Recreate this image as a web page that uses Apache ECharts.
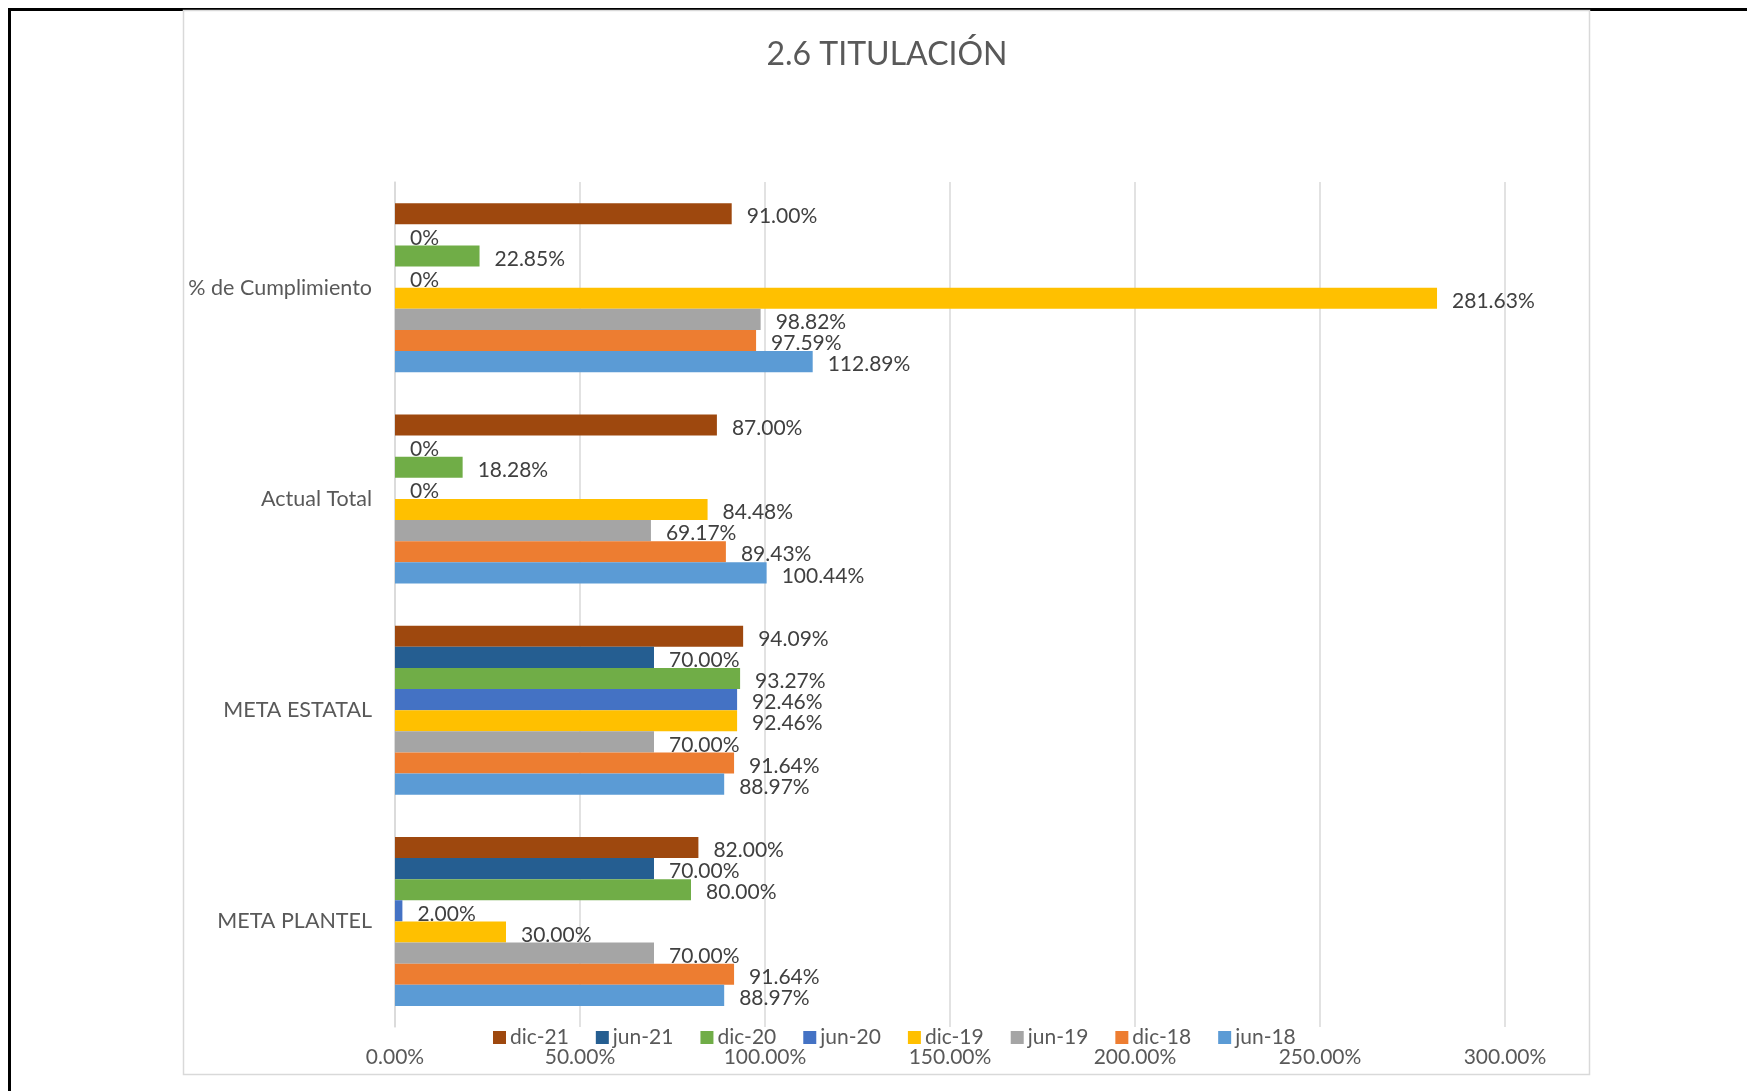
<!DOCTYPE html>
<html>
<head>
<meta charset="utf-8">
<script src="https://cdn.jsdelivr.net/npm/echarts@6/dist/echarts.min.js"></script>
<style>
  html, body { margin: 0; padding: 0; background: #fff; }
  #main { width: 1747px; height: 1091px; }
</style>
</head>
<body>
<div id="main"></div>
<script>
// categorias (de abajo hacia arriba, como en Excel)
const categories = ["META PLANTEL", "META ESTATAL", "Actual Total", "% de Cumplimiento"];
const seriesNames = ["dic-21", "jun-21", "dic-20", "jun-20", "dic-19", "jun-19", "dic-18", "jun-18"];
const seriesColors = ["#9E480E", "#255E91", "#70AD47", "#4472C4", "#FFC000", "#A5A5A5", "#ED7D31", "#5B9BD5"];

// valores en % por serie, en el orden de categories
const dic21 = [82.00, 94.09, 87.00, 91.00];
const jun21 = [70.00, 70.00, 0, 0];
const dic20 = [80.00, 93.27, 18.28, 22.85];
const jun20 = [2.00, 92.46, 0, 0];
const dic19 = [30.00, 92.46, 84.48, 281.63];
const jun19 = [70.00, 70.00, 69.17, 98.82];
const dic18 = [91.64, 91.64, 89.43, 97.59];
const jun18 = [88.97, 88.97, 100.44, 112.89];
const seriesValues = [dic21, jun21, dic20, jun20, dic19, jun19, dic18, jun18];

const FONT = "Lato";
const chart = echarts.init(document.getElementById("main"));

chart.setOption({
  backgroundColor: "#fff",
  animation: false,
  textStyle: { fontFamily: FONT },
  title: {
    text: "2.6 TITULACIÓN",
    left: 882,
    textAlign: "center",
    top: 34,
    textStyle: { fontFamily: FONT, fontSize: 32, fontWeight: "normal", color: "#595959" },
  },
  graphic: [
    // marco negro exterior (arriba / izquierda)
    { type: "rect", shape: { x: 8, y: 8, width: 1739, height: 3 }, style: { fill: "#000" } },
    { type: "rect", shape: { x: 8, y: 8, width: 3, height: 1083 }, style: { fill: "#000" } },
    // borde del area del grafico
    {
      type: "rect",
      shape: { x: 183.5, y: 10.5, width: 1406, height: 1064 },
      style: { fill: "none", stroke: "#D9D9D9", lineWidth: 1.5 },
    },
  ],
  legend: {
    data: seriesNames,
    left: 488,
    top: 1022,
    itemWidth: 13,
    itemHeight: 13,
    itemGap: 27,
    icon: "rect",
    textStyle: { fontFamily: FONT, fontSize: 21, color: "#595959", padding: [0, 0, 0, -1] },
  },
  grid: { left: 395, right: 242, top: 182, bottom: 64 },
  xAxis: {
    type: "value",
    min: 0,
    max: 300,
    interval: 50,
    axisLine: { show: false },
    axisTick: { show: false },
    splitLine: { lineStyle: { color: "#D9D9D9", width: 1.5 } },
    axisLabel: {
      margin: 20,
      fontFamily: FONT,
      fontSize: 21,
      color: "#595959",
      formatter: (v) => v.toFixed(2) + "%",
    },
  },
  yAxis: {
    type: "category",
    data: categories,
    axisLine: { show: true, lineStyle: { color: "#D9D9D9", width: 1.5 } },
    axisTick: { show: false },
    axisLabel: { margin: 23, fontFamily: FONT, fontSize: 21.5, color: "#595959" },
  },
  series: seriesNames.map((name, i) => ({
    name: name,
    type: "bar",
    data: seriesValues[i],
    barGap: "0%",
    barCategoryGap: "20%",
    itemStyle: { color: seriesColors[i] },
    label: {
      show: true,
      position: "right",
      distance: 15,
      offset: [0, 3],
      fontFamily: FONT,
      fontSize: 21,
      color: "#404040",
      formatter: (p) => (p.value === 0 ? "0%" : p.value.toFixed(2) + "%"),
    },
  })),
});
</script>
</body>
</html>
